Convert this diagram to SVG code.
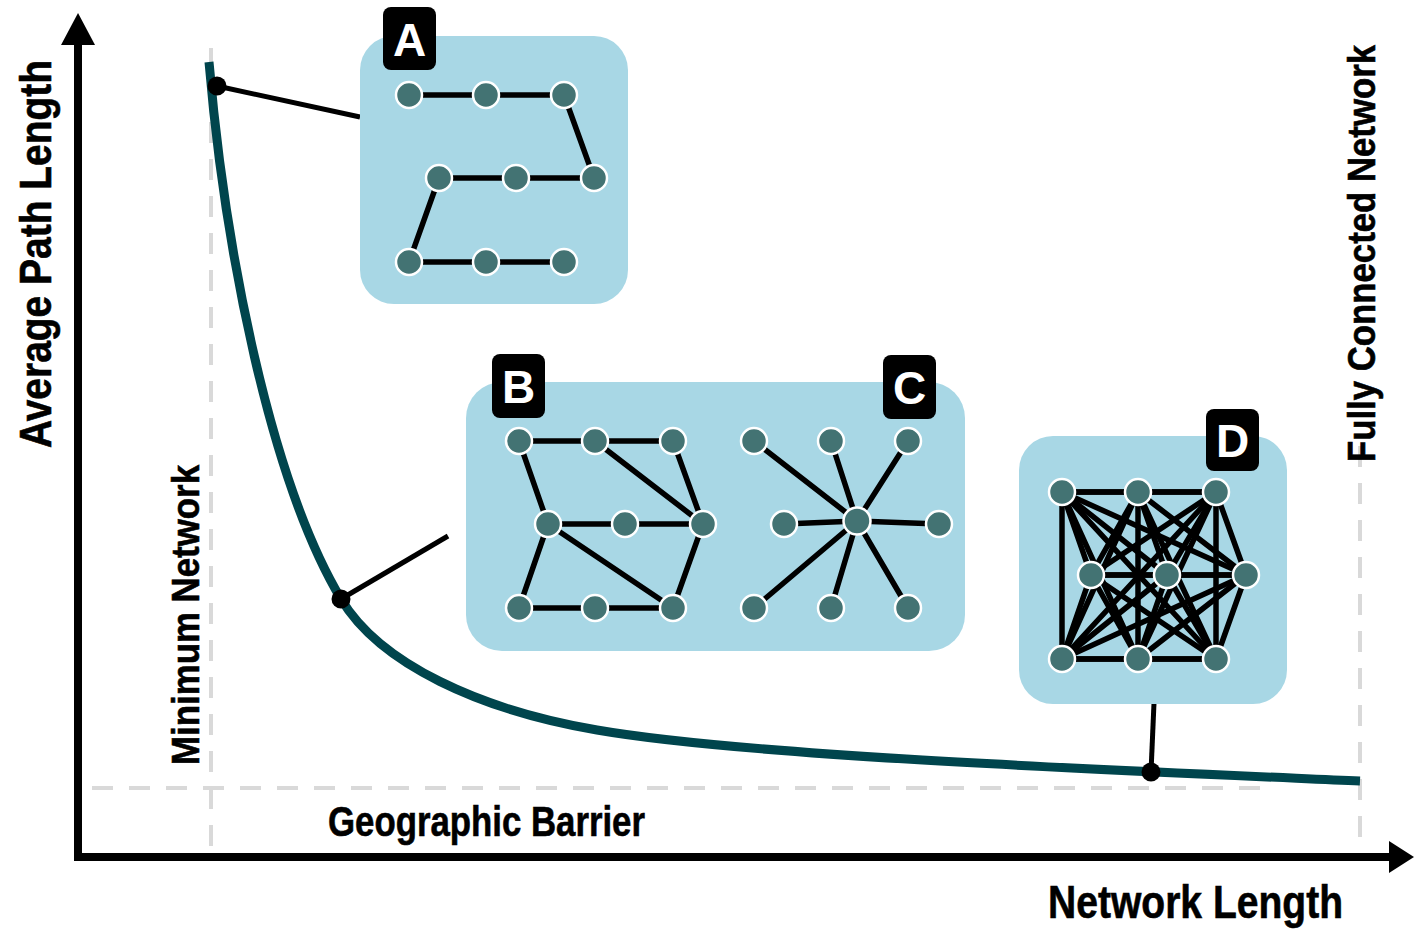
<svg xmlns="http://www.w3.org/2000/svg" width="1414" height="929" viewBox="0 0 1414 929">
  <style>
    .lbl { font-family: "Liberation Sans", Arial, sans-serif; font-weight: bold; fill: #000; stroke: #000; stroke-width: 0.6; }
    .badge-txt { font-family: "Liberation Sans", Arial, sans-serif; font-weight: bold; fill: #fff; font-size: 46px; text-anchor: middle; }
    .panel { fill: #a8d7e5; }
    .badge { fill: #000; }
    .guide { fill: none; stroke: #d9d9d9; stroke-width: 4; stroke-dasharray: 21 16; }
    .edge { stroke: #000; stroke-width: 5.5; stroke-linecap: round; fill: none; }
    .node { fill: #437373; stroke: #fff; stroke-width: 2.5; }
    .link { stroke: #000; stroke-width: 5; fill: none; }
    .pin { fill: #000; }
    .axis { stroke: #000; stroke-width: 8; fill: none; }
  </style>

  <!-- reference guide lines -->
  <g id="guides">
    <line class="guide" x1="211" y1="48" x2="211" y2="856"/>
    <line class="guide" x1="1360" y1="446" x2="1360" y2="852"/>
    <line class="guide" x1="92" y1="788" x2="1272" y2="788"/>
  </g>

  <!-- axes -->
  <g id="axes">
    <line class="axis" x1="78" y1="40" x2="78" y2="861"/>
    <polygon points="78,13 95,45 61,45" fill="#000"/>
    <line class="axis" x1="74" y1="857" x2="1392" y2="857"/>
    <polygon points="1414,857 1389,841 1389,873" fill="#000"/>
  </g>

  <!-- trade-off curve -->
  <g id="curve">
    <path d="M209,62 C225,250 270,480 341,599 C380,664 480,710 597,730 C747,756 1110,770 1360,781" fill="none" stroke="#00454d" stroke-width="9"/>
  </g>

  <!-- connectors from curve points to the network panels -->
  <g id="connectors">
    <line class="link" x1="217" y1="86" x2="360" y2="117"/>
    <line class="link" x1="341" y1="599" x2="448" y2="536"/>
    <line class="link" x1="1154" y1="703" x2="1151" y2="772"/>
    <circle class="pin" cx="217" cy="86" r="9.5"/>
    <circle class="pin" cx="341" cy="599" r="9.5"/>
    <circle class="pin" cx="1151" cy="772" r="9.5"/>
  </g>

  <!-- panel A: chain network -->
  <g id="panel-a">
    <rect class="panel" x="360" y="36" width="268" height="268" rx="34"/>
    <rect class="badge" x="383" y="7" width="53" height="63" rx="8"/>
    <text class="badge-txt" x="409.5" y="56">A</text>
    <g class="edges">
      <line class="edge" x1="409" y1="95" x2="486" y2="95"/>
      <line class="edge" x1="486" y1="95" x2="564" y2="95"/>
      <line class="edge" x1="564" y1="95" x2="594" y2="178"/>
      <line class="edge" x1="594" y1="178" x2="516" y2="178"/>
      <line class="edge" x1="516" y1="178" x2="439" y2="178"/>
      <line class="edge" x1="439" y1="178" x2="409" y2="262"/>
      <line class="edge" x1="409" y1="262" x2="486" y2="262"/>
      <line class="edge" x1="486" y1="262" x2="564" y2="262"/>
    </g>
    <circle class="node" cx="409" cy="95" r="13"/>
    <circle class="node" cx="486" cy="95" r="13"/>
    <circle class="node" cx="564" cy="95" r="13"/>
    <circle class="node" cx="439" cy="178" r="13"/>
    <circle class="node" cx="516" cy="178" r="13"/>
    <circle class="node" cx="594" cy="178" r="13"/>
    <circle class="node" cx="409" cy="262" r="13"/>
    <circle class="node" cx="486" cy="262" r="13"/>
    <circle class="node" cx="564" cy="262" r="13"/>
  </g>

  <!-- panel B/C: mesh and star networks -->
  <g id="panel-bc">
    <rect class="panel" x="466" y="382" width="499" height="269" rx="36"/>
    <rect class="badge" x="492" y="354" width="53" height="64" rx="8"/>
    <text class="badge-txt" x="518.5" y="403">B</text>
    <rect class="badge" x="883" y="355" width="53" height="64" rx="8"/>
    <text class="badge-txt" x="909.5" y="404">C</text>
  </g>

  <g id="network-b">
    <line class="edge" x1="519" y1="441" x2="595" y2="441"/>
    <line class="edge" x1="595" y1="441" x2="673" y2="441"/>
    <line class="edge" x1="519" y1="441" x2="548" y2="524"/>
    <line class="edge" x1="595" y1="441" x2="703" y2="524"/>
    <line class="edge" x1="673" y1="441" x2="703" y2="524"/>
    <line class="edge" x1="548" y1="524" x2="625" y2="524"/>
    <line class="edge" x1="625" y1="524" x2="703" y2="524"/>
    <line class="edge" x1="548" y1="524" x2="519" y2="608"/>
    <line class="edge" x1="548" y1="524" x2="673" y2="608"/>
    <line class="edge" x1="703" y1="524" x2="673" y2="608"/>
    <line class="edge" x1="519" y1="608" x2="595" y2="608"/>
    <line class="edge" x1="595" y1="608" x2="673" y2="608"/>
    <circle class="node" cx="519" cy="441" r="13"/>
    <circle class="node" cx="595" cy="441" r="13"/>
    <circle class="node" cx="673" cy="441" r="13"/>
    <circle class="node" cx="548" cy="524" r="13"/>
    <circle class="node" cx="625" cy="524" r="13"/>
    <circle class="node" cx="703" cy="524" r="13"/>
    <circle class="node" cx="519" cy="608" r="13"/>
    <circle class="node" cx="595" cy="608" r="13"/>
    <circle class="node" cx="673" cy="608" r="13"/>
  </g>

  <g id="network-c">
    <line class="edge" x1="857" y1="521" x2="754" y2="441"/>
    <line class="edge" x1="857" y1="521" x2="831" y2="441"/>
    <line class="edge" x1="857" y1="521" x2="908" y2="441"/>
    <line class="edge" x1="857" y1="521" x2="784" y2="524"/>
    <line class="edge" x1="857" y1="521" x2="939" y2="524"/>
    <line class="edge" x1="857" y1="521" x2="754" y2="608"/>
    <line class="edge" x1="857" y1="521" x2="831" y2="608"/>
    <line class="edge" x1="857" y1="521" x2="908" y2="608"/>
    <circle class="node" cx="754" cy="441" r="13"/>
    <circle class="node" cx="831" cy="441" r="13"/>
    <circle class="node" cx="908" cy="441" r="13"/>
    <circle class="node" cx="784" cy="524" r="13"/>
    <circle class="node" cx="857" cy="521" r="13.5"/>
    <circle class="node" cx="939" cy="524" r="13"/>
    <circle class="node" cx="754" cy="608" r="13"/>
    <circle class="node" cx="831" cy="608" r="13"/>
    <circle class="node" cx="908" cy="608" r="13"/>
  </g>

  <!-- panel D: fully connected network (every pair of nodes linked) -->
  <g id="panel-d">
    <rect class="panel" x="1019" y="436" width="268" height="268" rx="34"/>
    <rect class="badge" x="1206" y="409" width="53" height="62" rx="8"/>
    <text class="badge-txt" x="1232.5" y="457">D</text>
    <g class="edges">
      <line class="edge" x1="1062" y1="492" x2="1138" y2="492"/>
      <line class="edge" x1="1062" y1="492" x2="1216" y2="492"/>
      <line class="edge" x1="1062" y1="492" x2="1091" y2="575"/>
      <line class="edge" x1="1062" y1="492" x2="1167" y2="575"/>
      <line class="edge" x1="1062" y1="492" x2="1246" y2="575"/>
      <line class="edge" x1="1062" y1="492" x2="1062" y2="659"/>
      <line class="edge" x1="1062" y1="492" x2="1138" y2="659"/>
      <line class="edge" x1="1062" y1="492" x2="1216" y2="659"/>
      <line class="edge" x1="1138" y1="492" x2="1216" y2="492"/>
      <line class="edge" x1="1138" y1="492" x2="1091" y2="575"/>
      <line class="edge" x1="1138" y1="492" x2="1167" y2="575"/>
      <line class="edge" x1="1138" y1="492" x2="1246" y2="575"/>
      <line class="edge" x1="1138" y1="492" x2="1062" y2="659"/>
      <line class="edge" x1="1138" y1="492" x2="1138" y2="659"/>
      <line class="edge" x1="1138" y1="492" x2="1216" y2="659"/>
      <line class="edge" x1="1216" y1="492" x2="1091" y2="575"/>
      <line class="edge" x1="1216" y1="492" x2="1167" y2="575"/>
      <line class="edge" x1="1216" y1="492" x2="1246" y2="575"/>
      <line class="edge" x1="1216" y1="492" x2="1062" y2="659"/>
      <line class="edge" x1="1216" y1="492" x2="1138" y2="659"/>
      <line class="edge" x1="1216" y1="492" x2="1216" y2="659"/>
      <line class="edge" x1="1091" y1="575" x2="1167" y2="575"/>
      <line class="edge" x1="1091" y1="575" x2="1246" y2="575"/>
      <line class="edge" x1="1091" y1="575" x2="1062" y2="659"/>
      <line class="edge" x1="1091" y1="575" x2="1138" y2="659"/>
      <line class="edge" x1="1091" y1="575" x2="1216" y2="659"/>
      <line class="edge" x1="1167" y1="575" x2="1246" y2="575"/>
      <line class="edge" x1="1167" y1="575" x2="1062" y2="659"/>
      <line class="edge" x1="1167" y1="575" x2="1138" y2="659"/>
      <line class="edge" x1="1167" y1="575" x2="1216" y2="659"/>
      <line class="edge" x1="1246" y1="575" x2="1062" y2="659"/>
      <line class="edge" x1="1246" y1="575" x2="1138" y2="659"/>
      <line class="edge" x1="1246" y1="575" x2="1216" y2="659"/>
      <line class="edge" x1="1062" y1="659" x2="1138" y2="659"/>
      <line class="edge" x1="1062" y1="659" x2="1216" y2="659"/>
      <line class="edge" x1="1138" y1="659" x2="1216" y2="659"/>
    </g>
    <circle class="node" cx="1062" cy="492" r="13"/>
    <circle class="node" cx="1138" cy="492" r="13"/>
    <circle class="node" cx="1216" cy="492" r="13"/>
    <circle class="node" cx="1091" cy="575" r="13"/>
    <circle class="node" cx="1167" cy="575" r="13"/>
    <circle class="node" cx="1246" cy="575" r="13"/>
    <circle class="node" cx="1062" cy="659" r="13"/>
    <circle class="node" cx="1138" cy="659" r="13"/>
    <circle class="node" cx="1216" cy="659" r="13"/>
  </g>

  <!-- axis and guide labels -->
  <g id="labels">
    <text class="lbl" font-size="44" transform="translate(51,448) rotate(-90)" textLength="388" lengthAdjust="spacingAndGlyphs">Average Path Length</text>
    <text class="lbl" font-size="38" transform="translate(199,765) rotate(-90)" textLength="300" lengthAdjust="spacingAndGlyphs">Minimum Network</text>
    <text class="lbl" font-size="38" transform="translate(1375,462) rotate(-90)" textLength="417" lengthAdjust="spacingAndGlyphs">Fully Connected Network</text>
    <text class="lbl" font-size="42" x="328" y="836" textLength="317" lengthAdjust="spacingAndGlyphs">Geographic Barrier</text>
    <text class="lbl" font-size="46" x="1048" y="918" textLength="295" lengthAdjust="spacingAndGlyphs">Network Length</text>
  </g>
</svg>
